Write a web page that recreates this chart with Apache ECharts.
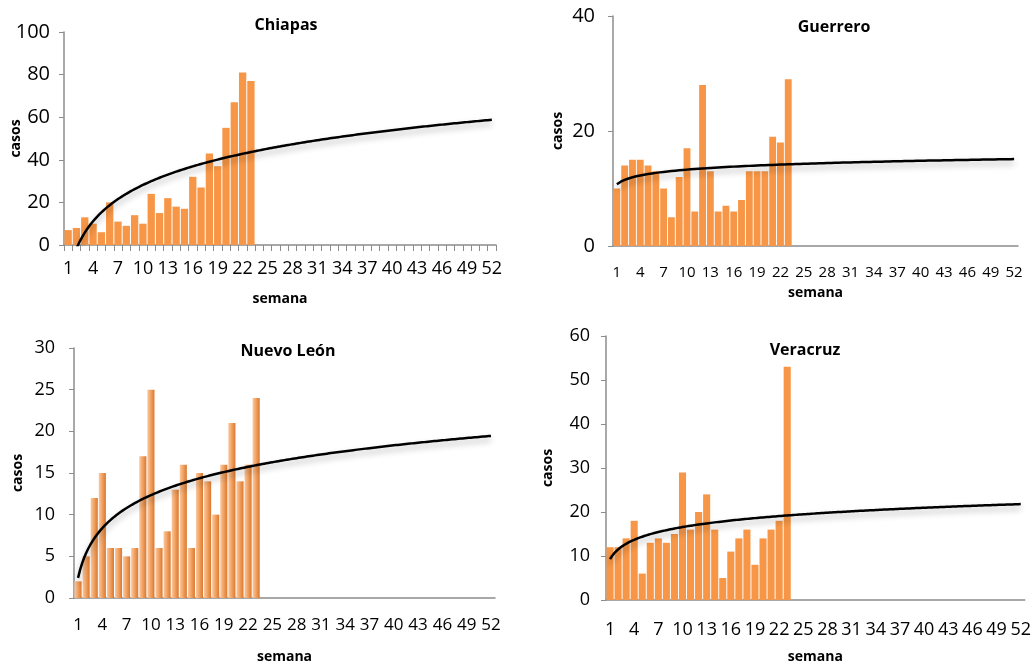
<!DOCTYPE html>
<html><head><meta charset="utf-8">
<script src="https://cdn.jsdelivr.net/npm/echarts@6/dist/echarts.min.js"></script>
<style>html,body{margin:0;padding:0;background:#fff}#c{width:1034px;height:665px}</style>
</head><body><div id="c"></div>
<script>
// ---- data ----
const semanas = Array.from({length: 52}, (_, i) => String(i + 1));
const titles = ['Chiapas', 'Guerrero', 'Nuevo León', 'Veracruz'];
const chiapas  = [7, 8, 13, 10, 6, 20, 11, 9, 14, 10, 24, 15, 22, 18, 17, 32, 27, 43, 37, 55, 67, 81, 77];
const guerrero = [10, 14, 15, 15, 14, 13, 10, 5, 12, 17, 6, 28, 13, 6, 7, 6, 8, 13, 13, 13, 19, 18, 29];
const nuevoLeon = [2, 5, 12, 15, 6, 6, 5, 6, 17, 25, 6, 8, 13, 16, 6, 15, 14, 10, 16, 21, 14, 16, 24];
const veracruz = [12, 12, 14, 18, 6, 13, 14, 13, 15, 29, 16, 20, 24, 16, 5, 11, 14, 16, 8, 14, 16, 18, 53];
const yMax = [100, 40, 30, 60];
const yStep = [20, 20, 5, 10];

const seriesData = [chiapas, guerrero, nuevoLeon, veracruz];

// logarithmic least-squares trend (like spreadsheet log trendline)
function logFit(ys) {
  const n = ys.length;
  let sL = 0, sY = 0, sLL = 0, sLY = 0;
  ys.forEach((y, i) => { const L = Math.log(i + 1); sL += L; sY += y; sLL += L * L; sLY += L * y; });
  const a = (n * sLY - sL * sY) / (n * sLL - sL * sL);
  const b = (sY - a * sL) / n;
  return {a, b};
}
function trendPts(ys) {
  const {a, b} = logFit(ys);
  const pts = [];
  for (let x = 1; x <= 52.0001; x += 0.25) pts.push([x, a * Math.log(x) + b]);
  return pts;
}

// ---- layout ----
const grids = [
  {left: 64, top: 32, width: 432, height: 213},
  {left: 613, top: 16, width: 405, height: 230},
  {left: 74, top: 348, width: 421, height: 251},
  {left: 606, top: 336, width: 421, height: 266}
];
const font = '"Open Sans", Lato, sans-serif';
const yLabelSize = [20, 20, 18, 18];
const xLabelSize = [18, 15, 17, 18];
const xLabelMargin = [15, 19, 19, 21];
const yLabelMargin = [14, 18, 19, 16];
const semanaGap = [47, 40, 52, 50];
const casosGap = [41, 48, 49, 51];
const titlePos = [[281, 12], [829, 14], [283, 338], [800, 337]];
const showXTicks = [true, false, false, false];

const axisColor = '#8c8c8c';
const orange = '#F79646';
const nlGradient = new echarts.graphic.LinearGradient(0, 0, 1, 0, [
  {offset: 0, color: '#FAC9A2'},
  {offset: 0.45, color: '#F3A464'},
  {offset: 1, color: '#D9782F'}
]);

const option = {
  backgroundColor: '#fff',
  animation: false,
  title: titles.map((t, i) => ({
    text: t, left: titlePos[i][0], top: titlePos[i][1], textAlign: 'center',
    textStyle: {fontFamily: font, fontWeight: 'bold', fontSize: 16, color: '#000'}
  })),
  grid: grids,
  xAxis: [
    ...grids.map((g, i) => ({
      type: 'category', gridIndex: i, data: semanas, boundaryGap: true,
      name: 'semana', nameLocation: 'middle', nameGap: semanaGap[i], nameMoveOverlap: false,
      nameTextStyle: {fontFamily: font, fontWeight: 'bold', fontSize: 14, color: '#000'},
      axisLine: {lineStyle: {color: axisColor, width: 1.5}},
      axisTick: {show: showXTicks[i], interval: 0, length: 6, lineStyle: {color: axisColor}},
      axisLabel: {interval: 2, fontFamily: font, fontSize: xLabelSize[i], color: '#000', margin: xLabelMargin[i]},
      splitLine: {show: false}
    })),
    ...grids.map((g, i) => ({
      type: 'value', gridIndex: i, min: 0.5, max: 52.5, show: false
    }))
  ],
  yAxis: grids.map((g, i) => ({
    type: 'value', gridIndex: i, min: 0, max: yMax[i], interval: yStep[i],
    name: 'casos', nameLocation: 'middle', nameGap: casosGap[i], nameRotate: 90, nameMoveOverlap: false,
    nameTextStyle: {fontFamily: font, fontWeight: 'bold', fontSize: 14, color: '#000'},
    axisLine: {show: true, lineStyle: {color: axisColor, width: 1.5}},
    axisTick: {show: true, length: 5, lineStyle: {color: axisColor}},
    axisLabel: {fontFamily: font, fontSize: yLabelSize[i], color: '#000', margin: yLabelMargin[i]},
    splitLine: {show: false}
  })),
  series: [
    ...seriesData.map((d, i) => ({
      type: 'bar', xAxisIndex: i, yAxisIndex: i, data: d,
      barCategoryGap: '12%',
      itemStyle: {color: i === 2 ? nlGradient : orange}
    })),
    ...seriesData.map((d, i) => ({
      type: 'line', xAxisIndex: 4 + i, yAxisIndex: i, data: trendPts(d),
      showSymbol: false, symbol: 'none', clip: true,
      lineStyle: {color: '#000', width: 2.5, shadowColor: 'rgba(0,0,0,0.3)', shadowBlur: 6, shadowOffsetY: 4},
      z: 5
    }))
  ]
};
echarts.init(document.getElementById('c'), null, {renderer: 'canvas'}).setOption(option);
</script></body></html>
